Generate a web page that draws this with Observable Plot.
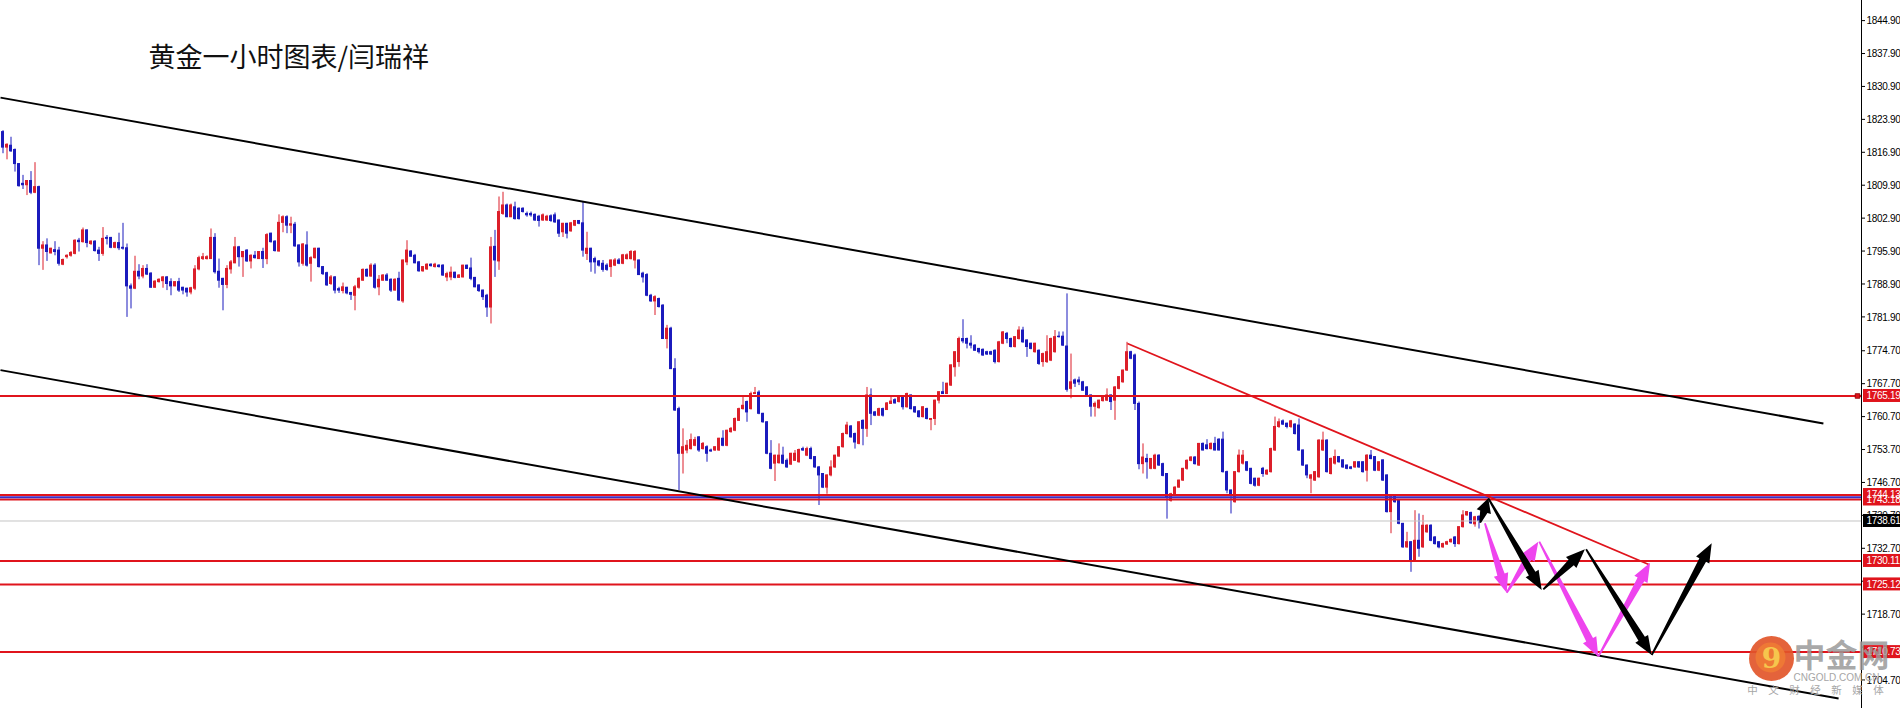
<!DOCTYPE html>
<html><head><meta charset="utf-8">
<script src="https://cdn.jsdelivr.net/npm/d3@7"></script>
<script src="https://cdn.jsdelivr.net/npm/@observablehq/plot@0.6"></script>
<style>body{margin:0;background:#fff;overflow:hidden} #chart svg{display:block}</style>
</head><body><div id="chart"></div>
<script>
// ---------- hourly gold candles (bar index = position in arrays) ----------
const opens = [
1821.3,1818.0,1818.4,1817.5,1814.5,1810.3,1810.0,1810.9,1808.4,1809.6,
1796.5,1797.2,1795.5,1796.2,1796.1,1793.1,1794.7,1795.0,1795.4,1798.2,
1797.9,1800.4,1797.5,1798.0,1796.1,1795.4,1798.8,1798.8,1796.7,1797.7,
1796.7,1796.6,1788.5,1788.0,1791.6,1790.6,1792.2,1791.2,1788.2,1789.4,
1789.6,1790.4,1789.4,1788.5,1789.4,1788.2,1788.0,1787.2,1788.0,1792.1,
1794.3,1794.3,1794.3,1798.8,1791.6,1790.1,1788.8,1792.1,1793.4,1796.8,
1794.7,1796.1,1793.8,1795.0,1794.3,1795.8,1794.3,1799.7,1798.0,1795.9,
1802.0,1803.2,1801.4,1801.6,1797.2,
1793.3,1797.2,1793.3,1794.5,1796.5,1792.6,1791.3,1789.0,1790.4,1787.9,
1787.5,1788.2,1787.1,1786.5,1788.2,1789.7,1792.0,1790.6,1792.9,1788.3,
1789.7,1790.8,1789.9,1787.6,1790.1,1785.3,1793.6,1795.9,1795.0,1793.6,
1791.7,1792.1,1793.1,1792.6,1792.9,1792.9,1790.4,1790.4,1791.4,1790.3,
1790.4,1792.9,1792.3,1790.3,1788.7,1787.6,1786.5,1784.0,1796.9,1793.8,
1803.9,1805.7,1803.2,1805.3,1805.0,1805.0,1803.9,1803.9,1803.7,1803.3,
1802.5,1802.5,1803.4,1803.6,1802.5,1800.0,1801.8,1800.2,1801.4,1802.4,
1801.9,1795.4,1796.5,1794.3,1793.8,
1793.3,1792.9,1792.6,1792.9,1794.0,1793.3,1794.3,1794.3,1794.0,1794.0,
1791.2,1790.9,1786.5,1785.3,1785.8,1784.4,1777.3,1779.5,1770.9,1762.4,
1752.9,1753.6,1753.9,1754.6,1756.4,1753.9,1754.3,1753.6,1753.6,1753.6,
1756.1,1754.6,1757.5,1757.8,1759.9,1762.4,1763.9,1762.4,1765.6,1765.9,
1761.4,1759.6,1752.9,1750.8,1750.9,1752.5,1751.4,1750.6,1751.4,1751.1,
1753.9,1752.5,1753.9,1752.2,1750.0,1748.6,1745.7,1748.3,1750.0,1752.3,
1754.3,1757.1,1758.7,1757.1,1755.0,1759.9,1758.2,1765.3,1761.7,1761.0,
1762.4,1762.2,1763.5,1764.3,1763.9,
1764.9,1762.8,1765.3,1762.8,1761.9,1760.7,1762.4,1760.1,1760.3,1764.2,
1766.0,1765.6,1767.4,1771.3,1772.4,1777.3,1777.3,1776.3,1775.9,1775.2,
1775.0,1774.5,1774.5,1774.8,1772.4,1776.3,1778.4,1777.3,1775.6,1777.3,
1779.1,1777.0,1776.3,1774.5,1774.8,1772.4,1772.4,1772.7,1774.5,1777.8,
1777.8,1775.7,1766.7,1768.5,1768.5,1768.1,1767.0,1765.3,1762.9,1762.6,
1764.1,1764.2,1765.3,1764.2,1766.7,1768.1,1770.6,1774.5,1773.8,1763.5,
1750.7,1751.8,1749.7,1749.7,1752.5,1750.7,1748.6,1742.9,1744.3,1745.7,
1747.2,1749.7,1751.4,1752.1,1750.4,
1755.0,1754.7,1753.9,1755.0,1755.9,1755.9,1749.0,1745.1,1742.6,1749.0,
1750.8,1751.1,1749.7,1747.6,1746.1,1749.7,1748.5,1749.0,1753.6,1758.6,
1759.8,1759.3,1758.6,1759.1,1758.9,1753.6,1750.4,1747.6,1747.2,1747.9,
1753.6,1755.7,1748.6,1750.8,1752.2,1751.5,1750.4,1750.0,1750.0,1751.1,
1751.1,1749.3,1752.5,1752.2,1749.3,1751.5,1748.3,1740.5,1743.7,1743.0,
1738.0,1733.0,1734.1,1730.2,1734.4,1733.0,1736.2,1737.6,1735.1,1734.1,
1733.0,1733.6,1734.1,1735.1,1733.7,1737.3,1739.8,1740.3,1737.9,1739.5];
const highs = [
1821.6,1818.8,1820.2,1817.7,1814.6,1812.1,1811.0,1812.9,1814.8,1809.8,
1798.0,1798.6,1796.6,1798.0,1796.8,1794.3,1795.2,1795.9,1798.4,1798.7,
1800.9,1800.5,1798.2,1798.2,1796.8,1801.0,1799.3,1798.9,1797.9,1799.8,
1801.9,1797.5,1789.0,1794.9,1793.1,1792.9,1793.1,1791.4,1789.7,1790.1,
1790.6,1790.6,1790.1,1789.5,1790.2,1788.3,1788.1,1788.3,1792.9,1794.9,
1795.5,1795.0,1800.7,1799.7,1794.3,1790.2,1792.9,1794.0,1798.9,1797.0,
1795.9,1796.3,1795.2,1795.9,1795.9,1796.6,1799.7,1799.8,1798.2,1803.7,
1803.5,1803.5,1803.2,1802.1,1797.3,
1797.6,1800.1,1794.8,1796.6,1796.6,1792.7,1791.5,1790.8,1790.6,1788.3,
1789.2,1788.3,1787.2,1788.7,1790.3,1792.2,1792.2,1793.3,1793.3,1790.8,
1791.0,1791.2,1790.1,1790.1,1791.5,1794.1,1798.2,1796.1,1795.3,1793.8,
1792.7,1793.3,1793.3,1793.4,1793.1,1793.1,1791.5,1792.6,1791.5,1791.0,
1793.0,1793.0,1794.5,1790.4,1788.8,1787.7,1786.8,1798.9,1800.4,1807.5,
1808.5,1806.0,1806.0,1806.4,1805.2,1805.2,1804.3,1804.3,1803.9,1803.6,
1803.9,1803.6,1803.7,1804.1,1802.6,1801.9,1801.9,1802.1,1802.5,1802.5,
1806.4,1800.0,1796.6,1794.7,1794.0,
1794.0,1793.3,1794.1,1794.4,1794.4,1795.3,1795.4,1796.1,1796.1,1794.1,
1791.5,1791.2,1786.8,1786.5,1786.0,1784.6,1780.2,1779.8,1773.1,1762.8,
1758.2,1755.7,1757.1,1756.4,1756.5,1755.3,1754.6,1753.9,1754.4,1756.2,
1757.8,1757.9,1758.5,1760.5,1762.6,1764.9,1764.1,1766.0,1767.0,1766.3,
1761.5,1759.7,1755.7,1752.6,1755.0,1754.3,1751.8,1753.0,1753.6,1753.9,
1754.3,1754.3,1754.3,1752.3,1750.2,1748.7,1748.4,1751.4,1752.6,1754.4,
1757.3,1759.6,1758.9,1757.3,1759.7,1760.1,1767.0,1766.7,1761.9,1762.6,
1762.6,1763.8,1764.9,1764.6,1765.0,
1765.1,1765.8,1765.4,1762.9,1762.1,1762.9,1762.6,1760.4,1764.3,1766.1,
1768.1,1767.9,1771.8,1774.6,1777.7,1781.4,1777.5,1778.0,1776.1,1775.3,
1775.2,1774.7,1774.7,1775.0,1776.8,1778.9,1778.7,1777.5,1777.8,1779.9,
1779.8,1777.1,1776.4,1776.4,1775.0,1774.3,1778.0,1777.5,1779.1,1778.8,
1778.8,1786.9,1774.1,1768.8,1769.2,1768.3,1767.2,1765.4,1763.9,1764.3,
1765.1,1766.7,1765.4,1767.2,1769.3,1770.7,1776.6,1774.7,1774.1,1763.9,
1755.0,1752.8,1751.9,1752.8,1752.7,1750.9,1748.7,1744.5,1745.9,1747.3,
1749.8,1751.6,1752.3,1752.3,1755.1,
1755.2,1755.9,1755.2,1756.4,1756.1,1757.5,1749.2,1745.2,1749.1,1753.7,
1753.6,1751.2,1749.8,1747.7,1747.7,1750.0,1749.5,1754.1,1760.7,1760.3,
1760.1,1759.4,1760.0,1759.3,1760.3,1753.7,1750.5,1748.5,1749.1,1755.9,
1757.5,1755.9,1752.0,1753.7,1752.3,1751.6,1750.5,1750.2,1751.2,1751.2,
1751.2,1752.7,1753.6,1752.3,1751.2,1751.6,1748.4,1743.8,1744.0,1743.1,
1738.1,1736.2,1734.2,1740.8,1740.1,1739.8,1737.8,1737.8,1735.3,1734.2,
1733.9,1734.3,1734.8,1735.3,1737.4,1740.8,1740.6,1740.5,1739.6,1739.7];
const lows = [
1816.7,1815.4,1817.0,1812.8,1809.6,1809.1,1807.8,1808.0,1808.2,1792.9,
1791.9,1793.8,1795.4,1795.0,1792.8,1792.9,1794.3,1794.7,1795.2,1795.8,
1797.7,1796.7,1797.2,1795.8,1793.8,1794.9,1797.3,1796.5,1796.5,1796.1,
1796.2,1781.9,1783.7,1787.8,1789.9,1790.1,1790.8,1788.1,1788.1,1789.2,
1788.1,1787.6,1786.5,1788.4,1787.2,1786.7,1786.2,1786.7,1787.6,1791.8,
1794.0,1794.1,1794.2,1791.1,1788.1,1783.3,1788.0,1791.1,1793.3,1792.6,
1790.4,1793.6,1792.2,1794.3,1794.2,1792.3,1793.1,1797.7,1795.8,1795.8,
1799.9,1799.7,1799.7,1796.8,1792.6,
1792.8,1792.6,1789.4,1794.3,1792.4,1790.8,1788.5,1788.7,1786.9,1787.0,
1786.9,1786.7,1785.5,1783.3,1787.9,1789.6,1790.4,1790.4,1787.9,1786.5,
1789.6,1789.6,1787.2,1787.5,1785.3,1784.9,1792.9,1794.7,1793.3,1791.5,
1791.5,1791.9,1792.6,1792.4,1792.4,1790.6,1789.5,1789.7,1790.1,1790.2,
1790.3,1792.1,1789.7,1788.2,1787.2,1785.5,1781.9,1780.5,1790.4,1791.9,
1803.6,1803.1,1803.1,1802.6,1802.6,1804.1,1803.2,1803.2,1802.3,1801.1,
1802.3,1802.3,1802.1,1801.9,1798.9,1798.9,1798.6,1800.0,1801.2,1801.6,
1794.7,1794.0,1791.5,1791.1,1792.6,
1791.5,1791.7,1790.4,1792.7,1793.1,1793.1,1794.1,1794.1,1792.2,1790.8,
1789.2,1786.3,1785.1,1782.3,1783.9,1777.2,1775.2,1770.8,1761.9,1745.1,
1748.6,1752.9,1753.7,1754.4,1753.2,1753.7,1751.1,1753.2,1753.4,1753.4,
1754.4,1754.4,1757.3,1757.6,1759.8,1762.2,1759.6,1762.2,1765.5,1761.2,
1759.4,1752.7,1749.5,1747.0,1750.7,1750.6,1749.8,1750.4,1751.3,1750.9,
1753.4,1752.3,1751.6,1749.8,1741.9,1745.5,1744.3,1748.0,1749.8,1752.2,
1754.1,1756.9,1756.2,1753.9,1754.8,1754.6,1756.4,1758.9,1760.8,1760.8,
1760.7,1762.1,1763.4,1763.5,1763.7,
1762.2,1762.6,1762.2,1761.5,1760.5,1760.5,1760.1,1757.8,1758.9,1763.5,
1765.5,1765.5,1767.2,1769.2,1771.3,1776.3,1775.2,1775.2,1774.7,1774.1,
1773.6,1773.8,1773.8,1772.0,1772.2,1776.1,1776.3,1775.4,1775.4,1777.1,
1776.4,1773.4,1775.0,1774.3,1771.7,1771.3,1772.1,1772.5,1774.3,1777.5,
1775.7,1766.0,1764.6,1767.0,1767.4,1766.2,1765.1,1760.7,1760.7,1762.4,
1763.9,1764.0,1762.1,1760.0,1766.5,1767.9,1770.4,1772.9,1762.1,1749.5,
1748.6,1747.5,1749.5,1749.5,1750.2,1748.0,1739.0,1742.6,1744.1,1745.6,
1747.0,1749.4,1751.2,1750.5,1750.2,
1753.5,1753.7,1753.7,1753.5,1753.5,1748.8,1744.4,1740.1,1742.4,1748.8,
1750.5,1749.1,1746.3,1745.8,1745.9,1747.9,1748.3,1748.8,1753.4,1758.3,
1758.9,1758.2,1758.3,1756.9,1753.4,1750.2,1747.6,1744.4,1747.0,1747.7,
1753.4,1748.8,1748.4,1750.5,1750.9,1749.8,1749.5,1749.5,1749.8,1749.8,
1748.8,1746.9,1751.6,1749.1,1749.1,1747.0,1740.3,1735.9,1742.4,1737.8,
1732.8,1732.8,1727.7,1729.9,1730.9,1732.8,1736.0,1734.2,1733.5,1732.7,
1732.8,1733.4,1733.9,1733.0,1733.5,1737.1,1739.6,1737.9,1737.3,1736.9];
const closes = [
1818.0,1818.6,1817.2,1814.5,1809.8,1810.0,1810.9,1808.4,1809.6,1796.5,
1797.2,1795.8,1796.5,1795.8,1793.3,1794.1,1795.0,1795.6,1798.2,1797.9,
1800.4,1797.7,1798.0,1796.0,1795.4,1798.6,1798.6,1796.7,1797.7,1796.6,
1796.5,1788.5,1788.0,1791.6,1790.6,1792.2,1791.0,1788.2,1789.5,1789.9,
1790.4,1789.0,1788.5,1789.4,1787.6,1787.6,1787.2,1788.1,1792.1,1794.5,
1794.7,1794.7,1798.8,1791.5,1789.7,1788.8,1792.2,1793.6,1796.8,1794.7,
1795.8,1793.8,1795.0,1794.5,1795.8,1794.3,1799.4,1797.9,1796.0,1802.0,
1803.2,1801.4,1801.7,1797.0,1793.6,
1797.4,1792.9,1794.5,1796.5,1792.6,1791.1,1788.7,1790.4,1787.6,1787.6,
1788.3,1787.0,1786.7,1788.3,1790.1,1792.0,1790.6,1792.9,1788.2,1789.9,
1790.8,1789.7,1787.6,1789.9,1785.5,1794.0,1796.1,1794.8,1793.4,1791.7,
1792.6,1793.1,1792.8,1793.1,1792.6,1790.8,1791.1,1791.4,1790.3,1790.8,
1792.9,1792.2,1790.1,1788.3,1787.5,1786.2,1784.0,1796.8,1794.0,1804.3,
1805.7,1803.2,1805.7,1802.8,1802.8,1804.3,1803.6,1803.6,1802.5,1802.4,
1803.6,1803.3,1802.4,1802.1,1799.7,1801.8,1799.7,1801.9,1802.4,1801.8,
1796.1,1796.5,1793.6,1793.6,1792.9,
1792.0,1792.0,1794.0,1794.0,1793.3,1795.1,1795.1,1795.8,1795.8,1790.9,
1790.4,1786.5,1785.3,1786.2,1784.1,1777.3,1779.5,1770.9,1762.1,1752.9,
1754.3,1754.6,1755.8,1755.8,1753.6,1755.0,1752.9,1753.4,1754.3,1756.1,
1754.6,1757.8,1758.2,1760.3,1762.4,1763.1,1761.7,1765.6,1765.8,1761.4,
1759.6,1752.9,1749.7,1752.5,1752.5,1750.8,1750.0,1752.9,1752.9,1753.7,
1753.6,1753.9,1751.8,1750.0,1748.3,1745.7,1748.3,1750.0,1752.5,1754.3,
1757.1,1758.9,1756.4,1755.3,1759.6,1758.2,1765.3,1761.4,1761.0,1762.4,
1761.0,1763.6,1764.0,1763.6,1764.9,
1762.8,1765.6,1762.4,1761.7,1760.7,1762.8,1760.3,1760.3,1764.2,1766.0,
1765.6,1767.8,1771.7,1774.5,1777.3,1776.8,1776.3,1775.9,1774.8,1774.5,
1773.8,1774.0,1774.0,1772.4,1776.6,1778.7,1777.3,1775.6,1777.7,1779.1,
1776.6,1775.6,1775.2,1776.3,1772.0,1774.1,1774.5,1777.3,1777.7,1777.7,
1775.9,1766.5,1768.1,1767.8,1768.1,1766.3,1765.3,1762.9,1763.5,1764.2,
1764.9,1765.3,1763.9,1767.0,1769.2,1770.6,1774.5,1773.1,1763.5,1750.7,
1752.1,1751.1,1751.8,1752.5,1750.4,1748.2,1743.6,1744.3,1745.7,1747.2,
1749.7,1751.4,1752.1,1750.7,1755.0,
1753.6,1753.9,1755.0,1753.6,1753.6,1749.0,1745.1,1744.0,1749.0,1752.5,
1752.5,1749.3,1746.5,1746.1,1747.6,1748.6,1749.3,1753.9,1758.6,1759.6,
1759.1,1758.6,1759.8,1757.1,1753.6,1750.4,1748.3,1748.3,1749.0,1755.7,
1755.7,1749.0,1751.8,1752.2,1751.1,1750.0,1749.7,1749.7,1751.1,1750.0,
1749.0,1752.5,1751.8,1749.3,1751.1,1747.2,1740.5,1743.7,1742.6,1738.0,
1733.0,1734.1,1730.2,1734.4,1732.7,1737.6,1737.6,1734.4,1733.7,1733.0,
1733.7,1734.1,1734.6,1733.7,1737.3,1739.8,1740.5,1738.1,1739.4,1738.6];

// ---------- price axis ----------
const tickLabels = [1844.90,1837.90,1830.90,1823.90,1816.90,1809.90,1802.90,1795.90,1788.90,1781.90,
  1774.70,1767.70,1760.70,1753.70,1746.70,1739.70,1732.70,1725.70,1718.70,1711.70,1704.70];

// ---------- horizontal levels ----------
const redLevels = [1765.19, 1743.18, 1744.13, 1730.11, 1725.12, 1710.73];
const blueLevel = [1743.67];
const bidLevel = [1738.61];

// ---------- channel & trend lines: [barIndex, price] ----------
const channelStart = [[-0.625, 1828.63], [-0.625, 1770.69]];
const channelEnd   = [[455.1, 1759.34], [458.9, 1700.87]];
const trendStart = [281.1, 1776.35];
const trendEnd   = [411.45, 1729.36];

// ---------- projected arrows: [fromIndex, fromPrice, toIndex, toPrice] ----------
const blackArrows = [
  [369.4, 1738.14, 371.45, 1743.33],
  [371.45, 1743.33, 384.8, 1723.83],
  [385.2, 1723.98, 395.6, 1732.48],
  [395.9, 1732.48, 412.3, 1710.01],
  [412.3, 1710.01, 427.3, 1733.76]];
const magentaArrows = [
  [370.6, 1738.01, 376.05, 1723.26],
  [376.05, 1723.26, 383.95, 1734.10],
  [384.2, 1734.10, 398.95, 1709.65],
  [398.95, 1709.65, 411.9, 1729.63]];

const title = "黄金一小时图表/闫瑞祥";

// ---------------------------------------------------------------------
const RED = "#dc1f2a", BLUE = "#1b1bbd", LINE_RED = "#e0141c";
const xDomain = [-0.625, 464.625];
const yDomain = [1698.74, 1849.28];

const candles = opens.map((o, i) => ({i, open: o, high: highs[i], low: lows[i], close: closes[i]}));
const ups = candles.filter(d => d.close >= d.open);
const downs = candles.filter(d => d.close < d.open);

const links = channelStart.map((s, j) => ({x1: s[0], y1: s[1], x2: channelEnd[j][0], y2: channelEnd[j][1]}));
const trend = [{x1: trendStart[0], y1: trendStart[1], x2: trendEnd[0], y2: trendEnd[1]}];

function taperedArrows(list, color, opts = {}) {
  const {head = 19, headW = 7.5, w0 = 0.9, w1 = 3.8} = opts;
  return (index, scales) => {
    const g = d3.create("svg:g");
    for (const a of list) {
      const x1 = scales.x(a[0]), y1 = scales.y(a[1]), x2 = scales.x(a[2]), y2 = scales.y(a[3]);
      const dx = x2 - x1, dy = y2 - y1, L = Math.hypot(dx, dy);
      const ux = dx / L, uy = dy / L, nx = -uy, ny = ux;
      const hl = Math.min(head, L * 0.55);
      const bx = x2 - ux * hl, by = y2 - uy * hl;
      const p = [
        [x1 + nx * w0, y1 + ny * w0], [bx + nx * w1, by + ny * w1], [bx + nx * headW, by + ny * headW],
        [x2, y2],
        [bx - nx * headW, by - ny * headW], [bx - nx * w1, by - ny * w1], [x1 - nx * w0, y1 - ny * w0]];
      g.append("path").attr("d", "M" + p.map(q => q.join(",")).join("L") + "Z").attr("fill", color);
    }
    return g.node();
  };
}

const boxLevels = redLevels.map(v => ({v, fill: LINE_RED}));
boxLevels.splice(3, 0, {v: bidLevel[0], fill: "#000"});
const boxOrder = [boxLevels[1], boxLevels[0], boxLevels[2], boxLevels[3], boxLevels[4], boxLevels[5], boxLevels[6]];
// labels that sit fully under a price box are hidden in the terminal
const visibleTickLabels = tickLabels.filter(t => boxOrder.every(b => Math.abs(b.v - t) > 1.0));

const AX_FONT = "'Liberation Sans',Arial,sans-serif";
const wm = {frameAnchor: "bottom-right", textAnchor: "middle", lineAnchor: "middle"};

const chart = Plot.plot({
  width: 1900, height: 708,
  marginLeft: 0, marginRight: 39, marginTop: 0, marginBottom: 0,
  x: {domain: xDomain, axis: null},
  y: {domain: yDomain, axis: null},
  style: {background: "#fff", fontFamily: AX_FONT, overflow: "visible"},
  marks: [
    // wicks
    Plot.ruleX(ups, {x: "i", y1: "low", y2: "high", stroke: RED, strokeWidth: 1}),
    Plot.ruleX(downs, {x: "i", y1: "low", y2: "high", stroke: BLUE, strokeWidth: 1}),
    // bodies
    Plot.rect(ups, {x1: "i", x2: "i", y1: "open", y2: "close", fill: RED,
      insetLeft: -1.5, insetRight: -1.5, insetTop: -0.5, insetBottom: -0.5}),
    Plot.rect(downs, {x1: "i", x2: "i", y1: "open", y2: "close", fill: BLUE,
      insetLeft: -1.5, insetRight: -1.5, insetTop: -0.5, insetBottom: -0.5}),
    // horizontal levels
    Plot.ruleY(bidLevel, {y: d => d, stroke: "#c4c4c4", strokeWidth: 1}),
    Plot.ruleY(redLevels, {y: d => d, stroke: LINE_RED, strokeWidth: 2}),
    Plot.ruleY(blueLevel, {y: d => d, stroke: "#3a2ec8", strokeWidth: 2}),
    // channel and trend lines
    Plot.link(links, {x1: "x1", y1: "y1", x2: "x2", y2: "y2", stroke: "#000", strokeWidth: 2}),
    Plot.link(trend, {x1: "x1", y1: "y1", x2: "x2", y2: "y2", stroke: LINE_RED, strokeWidth: 1.8}),
    // projection arrows
    taperedArrows(magentaArrows, "#ee44ee"),
    taperedArrows(blackArrows, "#000"),
    // price axis
    Plot.ruleX([xDomain[1]], {stroke: "#000", strokeWidth: 1}),
    Plot.rect(tickLabels, {x1: () => xDomain[1], x2: () => xDomain[1], y1: d => d, y2: d => d,
      fill: "#000", insetLeft: 0, insetRight: -4, insetTop: -0.5, insetBottom: -0.5}),
    Plot.text(visibleTickLabels, {y: d => d, frameAnchor: "right", dx: 5, textAnchor: "start", lineAnchor: "middle",
      text: d => d.toFixed(2), fill: "#000", fontSize: 10}),
    Plot.dot([redLevels[0]], {y: d => d, frameAnchor: "right", dx: -4, symbol: "square", r: 2.6,
      fill: LINE_RED, stroke: "#8a0000", strokeWidth: 0.8}),
    // price boxes
    Plot.rect(boxOrder, {x1: () => xDomain[1], x2: () => xDomain[1], y1: "v", y2: "v", fill: "fill",
      insetLeft: 2, insetRight: -39, insetTop: -6.5, insetBottom: -6.5}),
    Plot.text(boxOrder, {y: "v", frameAnchor: "right", dx: 5, textAnchor: "start", lineAnchor: "middle",
      text: d => d.v.toFixed(2), fill: "#fff", fontSize: 10}),
    // title
    Plot.text([title], {frameAnchor: "top-left", dx: 148, dy: 58, textAnchor: "start", lineAnchor: "middle",
      fontSize: 27, fill: "#111", fontFamily: "'Noto Sans CJK SC','Noto Sans',sans-serif"}),
    // watermark logo
    Plot.dot([0], {frameAnchor: "bottom-right", dx: -90, dy: -50, r: 22.5, fill: "#e2562a", fillOpacity: 0.92}),
    Plot.dot([0], {frameAnchor: "bottom-right", dx: -91, dy: -51, r: 15, fill: "#ee7a35", fillOpacity: 0.9}),
    Plot.text(["9"], {...wm, dx: -90, dy: -49, fontSize: 28, fontWeight: "bold",
      fill: "#f6c64d", fontFamily: "'DejaVu Serif',serif"}),
    Plot.text(["中金网"], {...wm, dx: -20, dy: -52, fontSize: 32, fontWeight: "bold",
      fill: "#9a9a9a", fillOpacity: 0.85, fontFamily: "'Noto Sans CJK SC',sans-serif"}),
    Plot.text(["CNGOLD.COM.CN"], {...wm, dx: -25, dy: -31, fontSize: 10,
      fill: "#a6a6a6", fontFamily: "'Liberation Sans',Arial,sans-serif"}),
    Plot.text(["中　文　财　经　新　媒　体"], {...wm, dx: -46, dy: -18, fontSize: 10.5,
      fill: "#a6a6a6", fontFamily: "'Noto Sans CJK SC',sans-serif"})
  ]
});
// tighten the price-axis digits slightly so they fit the right margin like the terminal font
d3.select(chart).selectAll("text").filter(function() { return /^\d{4}\.\d\d$/.test(this.textContent); })
  .style("letter-spacing", "-0.3px");
document.getElementById("chart").appendChild(chart);
</script>
</body></html>
